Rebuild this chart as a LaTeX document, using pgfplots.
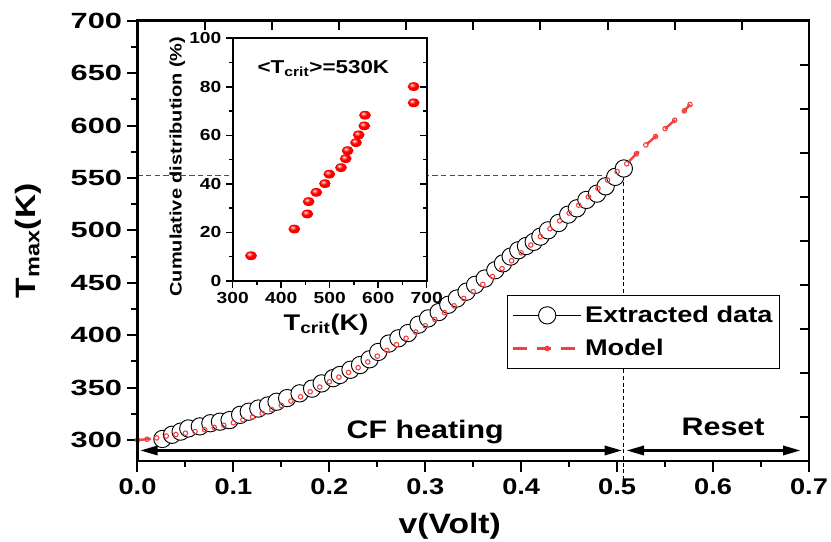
\documentclass[border=0pt]{standalone}
\usepackage{fontspec}
\setmainfont{Liberation Sans}[FakeStretch=1.2]
\newfontfamily\widefont{Liberation Sans}[FakeStretch=1.4]
\usepackage{pgfplots}
\pgfplotsset{compat=1.18}
\usetikzlibrary{arrows.meta}
\definecolor{modelred}{RGB}{242,64,64}
\pgfdeclareradialshading{redballshade}{\pgfpoint{-8bp}{10bp}}{%
  color(0bp)=(white); color(5bp)=(red!45!white); color(14bp)=(red);
  color(40bp)=(red!92!black); color(75bp)=(red!80!black)}
\pgfdeclareplotmark{redball}{%
  \pgfpathellipse{\pgfpointorigin}{\pgfpoint{1.35\pgfplotmarksize}{0pt}}{\pgfpoint{0pt}{\pgfplotmarksize}}%
  \pgfshadepath{redballshade}{0}%
  \pgfusepath{discard}}

\begin{document}
\begin{tikzpicture}[font=\bfseries]
\path[use as bounding box] (-103.1pt,-60.75pt) rectangle (520.1pt,345.7pt);
% ---------------- main axis ----------------
\begin{axis}[
  at={(0,0)}, anchor=south west,
  scale only axis, width=503.6pt, height=330.2pt,
  xmin=0, xmax=0.7, ymin=280, ymax=700,
  xtick={0,0.1,0.2,0.3,0.4,0.5,0.6,0.7},
  minor xtick={0.05,0.15,0.25,0.35,0.45,0.55,0.65},
  ytick={300,350,400,450,500,550,600,650,700},
  minor ytick={325,375,425,475,525,575,625,675},
  xtick pos=left, ytick pos=left,
  tick align=outside,
  major tick length=8pt, minor tick length=4.5pt,
  tick style={black, line width=1.5pt},
  axis line style={line width=2pt},
  clip=false,
  /pgf/number format/assume math mode=true,
  xticklabel style={font=\fontsize{17}{17}\selectfont\bfseries, yshift=-2pt,
     /pgf/number format/.cd, fixed, fixed zerofill, precision=1},
  yticklabel style={font=\fontsize{16.5}{16.5}\selectfont\widefont\bfseries},
  xlabel={v(Volt)},
  ylabel={T\textsubscript{max}(K)},
  xlabel style={font=\fontsize{21}{21}\selectfont\bfseries,
     at={(axis description cs:0.465,-0.148)}, anchor=center},
  ylabel style={font=\fontsize{21}{21}\selectfont\bfseries,
     at={(axis description cs:-0.163,0.5)}, anchor=center},
  legend style={at={(axis description cs:0.551,0.377)}, anchor=north west,
     draw=black, line width=0.75pt, font=\fontsize{17}{17}\selectfont\bfseries,
     inner xsep=3pt, inner ysep=6pt, row sep=7pt},
  legend cell align=left,
  legend image code/.code={\draw[mark repeat=2,mark phase=2,#1]
     plot coordinates {(0pt,0pt) (25.5pt,0pt) (51pt,0pt)};},
]
% reference dashed lines
\addplot[gray!60!black, line width=0.7pt, dash pattern=on 4pt off 2.5pt, forget plot]
  coordinates {(0,552) (0.507,552)};
\addplot[black, line width=0.6pt, dash pattern=on 3pt off 2pt, forget plot]
  coordinates {(0.507,552) (0.507,262)};

% extracted data
\addplot[black, line width=0.6pt, mark=*, mark size=6.5pt,
  mark options={fill=white, draw=black, line width=0.7pt}]
  coordinates {
  (0.026,301) (0.036,305) (0.045,308) (0.053,311) (0.065,313) (0.076,316)
  (0.086,317.5) (0.096,319) (0.107,324) (0.116,327) (0.126,330) (0.136,333)
  (0.145,336.5) (0.156,340) (0.169,344.5) (0.182,349) (0.192,354) (0.204,359)
  (0.211,362) (0.222,367) (0.232,371.5) (0.242,377) (0.251,384) (0.262,392)
  (0.272,397) (0.282,402) (0.293,410) (0.303,416) (0.314,422) (0.324,429)
  (0.333,435) (0.343,441.5) (0.352,448) (0.362,454) (0.373,462) (0.381,468.5)
  (0.389,475) (0.397,481) (0.405,485) (0.413,489) (0.420,494) (0.428,500)
  (0.439,507) (0.449,515) (0.458,521) (0.468,529) (0.479,535) (0.488,542)
  (0.498,551) (0.507,559)
  };
\addlegendentry{Extracted data}

% model
\addplot[modelred, line width=1.8pt, dash pattern=on 10pt off 8pt,
  mark=o, mark size=1.7pt, mark options={solid, line width=0.8pt}]
  coordinates {
  (0.00,300.0) (0.01,300.7) (0.02,302.0) (0.03,303.8) (0.04,305.2) (0.05,306.5)
  (0.06,308.0) (0.07,309.8) (0.08,312.0) (0.09,314.0) (0.10,316.5) (0.11,319.2)
  (0.12,322.0) (0.13,325.5) (0.14,329.0) (0.15,333.0) (0.16,337.2) (0.17,341.2)
  (0.18,346.0) (0.19,350.5) (0.20,355.5) (0.21,360.0) (0.22,364.5) (0.23,369.0)
  (0.24,374.5) (0.25,380.0) (0.26,385.5) (0.27,391.0) (0.28,397.0) (0.29,403.0)
  (0.30,409.0) (0.31,415.0) (0.32,421.5) (0.33,428.0) (0.34,435.0) (0.35,441.5)
  (0.36,448.5) (0.37,456.0) (0.38,463.5) (0.39,471.0) (0.40,478.5) (0.41,486.0)
  (0.42,494.0) (0.43,501.5) (0.44,509.0) (0.45,516.5) (0.46,524.0) (0.47,532.0)
  (0.48,540.0) (0.49,548.0) (0.50,556.0) (0.51,563.5) (0.52,573.0) (0.53,581.5)
  (0.54,589.5) (0.55,597.0) (0.56,605.0) (0.57,614.0) (0.576,620.0)
  };
\addlegendentry{Model}

% arrows and region labels
\draw[line width=1.8pt, {Triangle[length=13pt,width=7pt]}-{Triangle[length=13pt,width=7pt]}]
  (axis cs:0.003,290) -- (axis cs:0.505,290);
\draw[line width=1.8pt, {Triangle[length=13pt,width=7pt]}-{Triangle[length=13pt,width=7pt]}]
  (axis cs:0.510,290) -- (axis cs:0.691,290);
\node[font=\fontsize{19}{19}\selectfont\bfseries] at (axis cs:0.30,308) {CF heating};
\node[font=\fontsize{19}{19}\selectfont\bfseries] at (axis cs:0.6105,312.7) {Reset};
\end{axis}

% ---------------- top/right inward ticks of the frame ----------------
\begin{axis}[
  at={(0,0)}, anchor=south west,
  scale only axis, width=503.6pt, height=330.2pt,
  xmin=0, xmax=10, ymin=0, ymax=10,
  xtick={1,2,3,4,5,6,7,8,9}, ytick={1,2,3,4,5,6,7,8,9},
  xticklabels={}, yticklabels={},
  xtick pos=right, ytick pos=right,
  tick align=inside, major tick length=7pt,
  tick style={black, line width=1.5pt},
  axis line style={line width=2pt},
]
\end{axis}

% ---------------- inset ----------------
\begin{axis}[
  at={(71.4pt,135pt)}, anchor=south west,
  scale only axis, width=145.5pt, height=182pt,
  xmin=300, xmax=700, ymin=0, ymax=100,
  xtick={300,400,500,600,700}, minor xtick={350,450,550,650},
  ytick={0,20,40,60,80,100}, minor ytick={10,30,50,70,90},
  xtick pos=left, ytick pos=left,
  tick align=outside,
  major tick length=5pt, minor tick length=3pt,
  tick style={black, line width=1.2pt},
  axis line style={line width=1.5pt},
  axis background/.style={fill=white},
  clip=false,
  /pgf/number format/assume math mode=true,
  ticklabel style={font=\fontsize{12}{12}\selectfont\bfseries},
  xlabel={T\textsubscript{crit}(K)},
  ylabel={Cumulative distribution (\%)},
  xlabel style={font=\fontsize{17}{17}\selectfont\bfseries,
     at={(axis description cs:0.481,-0.178)}, anchor=center},
  ylabel style={font=\fontsize{12.5}{12.5}\selectfont\bfseries,
     at={(axis description cs:-0.285,0.471)}, anchor=center},
]
\addplot[only marks, mark=redball, mark size=3.3pt]
  coordinates {
  (337.8,10.4) (427.1,21.4) (453.9,27.6) (456.6,32.7) (472.4,36.5) (490.3,40.1)
  (499.2,44.0) (523.3,46.7) (533.0,50.4) (537.0,53.7) (554.3,57.0) (559.8,60.2)
  (571.4,63.9) (572.8,68.3) (673.1,73.4) (673.1,80.1)
  };
\node[font=\fontsize{14}{14}\selectfont\bfseries] at (axis cs:487,87.6)
  {<T\textsubscript{crit}>=530K};
\end{axis}
\begin{axis}[
  at={(71.4pt,135pt)}, anchor=south west,
  scale only axis, width=145.5pt, height=182pt,
  xmin=300, xmax=700, ymin=0, ymax=100,
  xtick=\empty,
  ytick={0,20,40,60,80,100}, minor ytick={10,30,50,70,90},
  yticklabels={}, ytick pos=right,
  tick align=inside, major tick length=5pt, minor tick length=3pt,
  tick style={black, line width=1.2pt},
  axis line style={line width=1.5pt},
]
\end{axis}
\end{tikzpicture}
\end{document}
